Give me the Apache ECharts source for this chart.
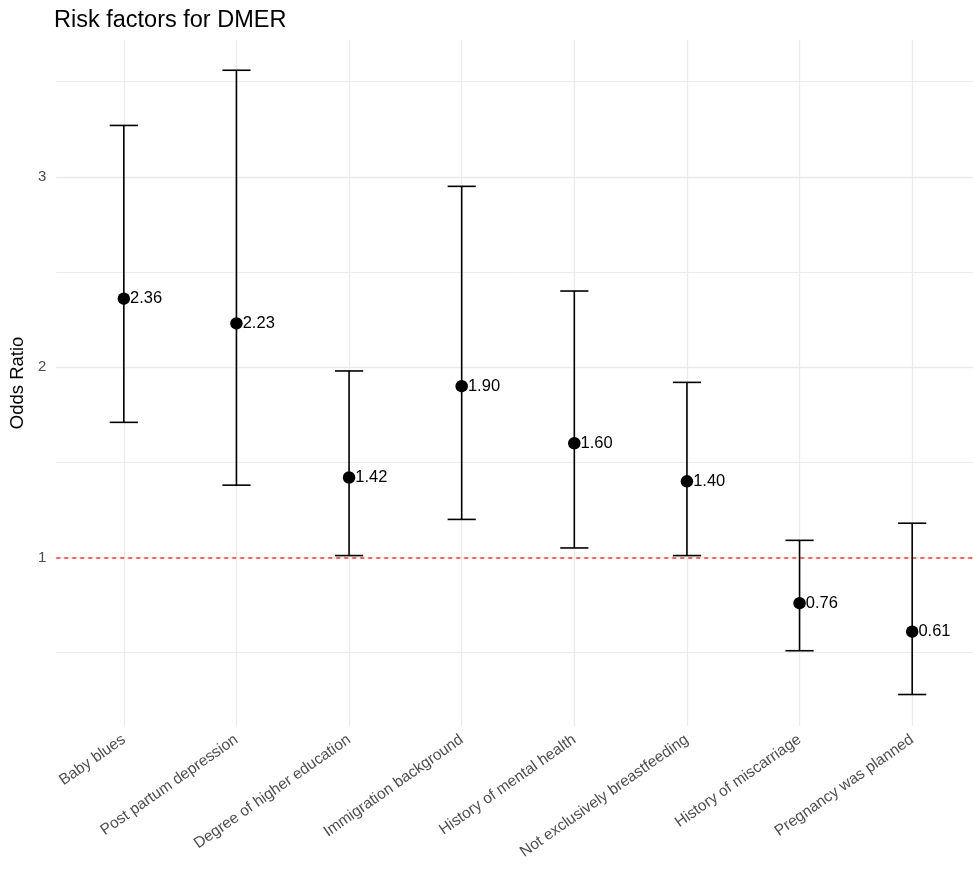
<!DOCTYPE html>
<html>
<head>
<meta charset="utf-8">
<script src="https://cdn.jsdelivr.net/npm/echarts@6/dist/echarts.min.js"></script>
<style>
html,body{margin:0;padding:0;background:#fff;}
#chart{width:973px;height:877px;}
</style>
</head>
<body>
<div id="chart"></div>
<script>
const categories = ["Baby blues","Post partum depression","Degree of higher education","Immigration background","History of mental health","Not exclusively breastfeeding","History of miscarriage","Pregnancy was planned"];
const oddsRatio = [2.36, 2.23, 1.42, 1.90, 1.60, 1.40, 0.76, 0.61];
const ciLower = [1.71, 1.38, 1.01, 1.20, 1.05, 1.01, 0.51, 0.28];
const ciUpper = [3.27, 3.56, 1.98, 2.95, 2.40, 1.92, 1.09, 1.18];
const yTicks = [1, 2, 3];
const yMinorGrid = [0.5, 1.5, 2.5, 3.5];
const refLine = 1;

const catIdx = categories.map((c, i) => i);
const chart = echarts.init(document.getElementById('chart'));
const FONT = 'Liberation Sans, Arial, sans-serif';

const option = {
  animation: false,
  textStyle: { fontFamily: FONT },
  title: {
    text: 'Risk factors for DMER',
    left: 49, top: 4,
    textStyle: { fontSize: 23.5, fontWeight: 'normal', color: '#000', fontFamily: FONT }
  },
  grid: { left: 53.8, right: 0, top: 39.8, bottom: 150.9, containLabel: false },
  xAxis: {
    type: 'value', min: -0.6, max: 7.54,
    axisLine: { show: false }, axisTick: { show: false }, splitLine: { show: false },
    axisLabel: {
      customValues: catIdx,
      formatter: v => categories[Math.round(v)] || '',
      rotate: 35, fontSize: 15.5, color: '#4d4d4d', margin: 12, fontFamily: FONT
    }
  },
  yAxis: {
    type: 'value', min: 0.114, max: 3.72,
    axisLine: { show: false }, axisTick: { show: false }, splitLine: { show: false },
    axisLabel: { customValues: yTicks, fontSize: 15, color: '#4d4d4d', margin: 10, fontFamily: FONT },
    name: 'Odds Ratio', nameLocation: 'middle', nameGap: 20,
    nameTextStyle: { fontSize: 18.5, color: '#000', fontFamily: FONT }
  },
  series: [
    {
      type: 'line', data: [], silent: true, z: 1,
      markLine: {
        z: 1, silent: true, symbol: 'none', label: { show: false },
        lineStyle: { color: '#ebebeb', width: 1.3, type: 'solid' },
        data: [
          ...yMinorGrid.map(v => ({ yAxis: v, lineStyle: { width: 1 } })),
          ...yTicks.map(v => ({ yAxis: v })),
          ...catIdx.map(i => ({ xAxis: i }))
        ]
      }
    },
    {
      type: 'line', data: [], silent: true, z: 2,
      markLine: {
        z: 2, silent: true, symbol: 'none', label: { show: false },
        lineStyle: { color: '#ff3333', width: 1.5, type: [4, 4], opacity: 1 },
        data: [{ yAxis: refLine }]
      }
    },
    {
      type: 'custom', z: 10,
      data: catIdx.map(i => [i, ciLower[i], ciUpper[i]]),
      encode: { x: 0, y: [1, 2] },
      renderItem: function (params, api) {
        const x = api.value(0);
        const lo = api.coord([x, api.value(1)]);
        const hi = api.coord([x, api.value(2)]);
        const hw = api.size([0.25, 0])[0] / 2;
        const st = { stroke: '#000', lineWidth: 1.6, opacity: 1 };
        return {
          type: 'group',
          children: [
            { type: 'line', shape: { x1: lo[0], y1: lo[1], x2: hi[0], y2: hi[1] }, style: st },
            { type: 'line', shape: { x1: hi[0] - hw, y1: hi[1], x2: hi[0] + hw, y2: hi[1] }, style: st },
            { type: 'line', shape: { x1: lo[0] - hw, y1: lo[1], x2: lo[0] + hw, y2: lo[1] }, style: st }
          ]
        };
      }
    },
    {
      type: 'scatter', z: 11,
      data: catIdx.map(i => [i, oddsRatio[i]]),
      symbol: 'circle', symbolSize: 12.5,
      itemStyle: { color: '#000', opacity: 1 },
      label: {
        show: true, position: 'right', distance: 0,
        formatter: p => p.value[1].toFixed(2),
        fontSize: 16.5, color: '#000', fontFamily: FONT
      }
    }
  ]
};
chart.setOption(option);
</script>
</body>
</html>
